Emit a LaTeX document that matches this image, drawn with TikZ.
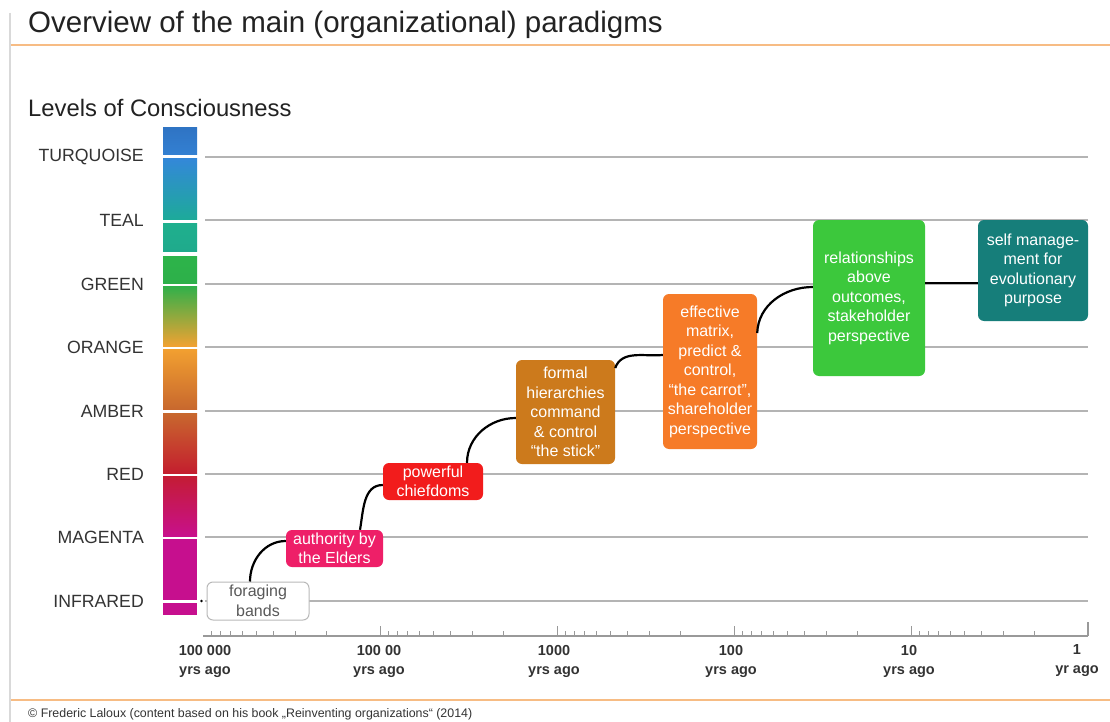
\documentclass[tikz,border=0pt]{standalone}
\usepackage{fontspec}
\setmainfont{Liberation Sans}
\usetikzlibrary{positioning}

\definecolor{titlegray}{HTML}{222222}
\definecolor{labelgray}{HTML}{333333}
\definecolor{linegray}{HTML}{B4B4B4}
\definecolor{rulebeige}{HTML}{F7BC84}
\definecolor{magentabox}{HTML}{EE1F68}
\definecolor{redbox}{HTML}{F21C1C}
\definecolor{amberbox}{HTML}{CC7A1C}
\definecolor{orangebox}{HTML}{F67B28}
\definecolor{greenbox}{HTML}{3CC83C}
\definecolor{tealbox}{HTML}{167E7A}

\begin{document}
\begin{tikzpicture}[
  x=1pt, y=-1pt,
  stage/.style={rounded corners=6pt, align=center, text=white, inner sep=0pt,
    font=\fontsize{16}{19.5}\selectfont},
  levellabel/.style={anchor=east, text=labelgray, inner sep=0pt, font=\fontsize{17.7}{20}\selectfont},
  yearlabel/.style={align=center, text=labelgray, inner sep=0pt, font=\fontsize{14.5}{19}\selectfont\bfseries},
  level/.style={draw=linegray, line width=1.8pt},
  link/.style={draw=black, line width=2.2pt},
  axis/.style={draw=gray!80, line width=1.4pt}
]
\useasboundingbox (0,0) rectangle (1110,722);
\fill[white] (0,0) rectangle (1110,722);

% frame and rules
\draw[draw=gray!30, line width=2pt] (10,13) -- (10,722);
\draw[draw=rulebeige, line width=2pt] (11,45) -- (1110,45);
\draw[draw=rulebeige, line width=2pt] (11,700) -- (1110,700);

\node[anchor=base west, inner sep=0pt, text=titlegray, font=\fontsize{29.5}{30}\selectfont] (title) at (28,33)
  {Overview of the main (organizational) paradigms};
\node[anchor=base west, inner sep=0pt, text=titlegray, font=\fontsize{23.8}{26}\selectfont] (heading) at (28,117)
  {Levels of Consciousness};

% colour bar
\fill[top color={rgb,255:red,47;green,116;blue,196}, bottom color={rgb,255:red,51;green,128;blue,210}] (163,128) rectangle (197,155);
\fill[top color={rgb,255:red,51;green,136;blue,216}, bottom color={rgb,255:red,29;green,170;blue,154}] (163,159) rectangle (197,219);
\fill[top color={rgb,255:red,31;green,176;blue,142}, bottom color={rgb,255:red,31;green,170;blue,140}] (163,223) rectangle (197,251);
\fill[top color={rgb,255:red,45;green,180;blue,74}, bottom color={rgb,255:red,45;green,176;blue,74}] (163,256) rectangle (197,283);
\fill[top color={rgb,255:red,48;green,176;blue,74}, bottom color={rgb,255:red,240;green,162;blue,50}] (163,286) rectangle (197,346);
\fill[top color={rgb,255:red,242;green,160;blue,48}, bottom color={rgb,255:red,200;green,104;blue,46}] (163,349) rectangle (197,409);
\fill[top color={rgb,255:red,200;green,104;blue,46}, bottom color={rgb,255:red,196;green,30;blue,46}] (163,413) rectangle (197,473);
\fill[top color={rgb,255:red,196;green,28;blue,52}, bottom color={rgb,255:red,200;green,16;blue,140}] (163,476) rectangle (197,536);
\fill[color={rgb,255:red,198;green,15;blue,142}] (163,539) rectangle (197,600);
\fill[color={rgb,255:red,198;green,15;blue,142}] (163,603) rectangle (197,615);

% levels
\foreach \y/\name in {157/TURQUOISE, 220/TEAL, 284/GREEN, 347/ORANGE,
                      411/AMBER, 474/RED, 537/MAGENTA, 601/INFRARED} {
  \draw[level] (205,\y) -- (1088,\y);
  \node[levellabel] (lvl\name) at (144,\y) {\name};
}

% time axis (log scale)
\draw[axis] (203,636) -- (1088,636);
\foreach \d in {0,...,4} {
  \foreach \m in {2,...,9} {
    \pgfmathsetmacro\tx{203+177*\d+177*(1-log10(\m))}
    \draw[axis, line width=1pt] (\tx,636) -- (\tx,631);
  }
}
\foreach \d in {1,...,4}
  \draw[axis, line width=1pt] (203+177*\d,636) -- (203+177*\d,626);
\draw[axis] (1088,636) -- (1088,622);

\node[yearlabel] (yr5) at (205,661) {100 000\\yrs ago};
\node[yearlabel] (yr4) at (379,661) {100 00\\yrs ago};
\node[yearlabel] (yr3) at (554,661) {1000\\yrs ago};
\node[yearlabel] (yr2) at (731,661) {100\\yrs ago};
\node[yearlabel] (yr1) at (909,661) {10\\yrs ago};
\node[yearlabel] (yr0) at (1077,661) {1\\yr ago};

% paradigms
\node[stage, draw=gray!55, line width=1pt, fill=white, text=gray!70!black, minimum width=102pt, minimum height=38pt] (forage) at (258,601) {foraging\\bands};
\node[stage, fill=magentabox, minimum width=97pt, minimum height=37pt] (elders) at (334.5,548.5) {authority by\\the Elders};
\node[stage, fill=redbox, minimum width=100pt, minimum height=37pt] (chiefs) at (433,481.5) {powerful\\chiefdoms};
\node[stage, fill=amberbox, minimum width=99pt, minimum height=104pt] (formal) at (565.5,412) {formal\\hierarchies\\command\\\& control\\“the stick”};
\node[stage, fill=orangebox, minimum width=94pt, minimum height=155pt] (effective) at (710,371.5) {effective\\matrix,\\predict \&\\control,\\“the carrot”,\\shareholder\\perspective};
\node[stage, fill=greenbox, minimum width=112pt, minimum height=156pt] (relations) at (869,298) {relationships\\above\\outcomes,\\stakeholder\\perspective};
\node[stage, fill=tealbox, minimum width=110pt, minimum height=101pt] (selfmgmt) at (1033,270.5) {self manage-\\ment for\\evolutionary\\purpose};

\fill ([xshift=-5pt]forage.west) circle (1.4pt);

% connectors
\draw[link] ([xshift=-8pt]forage.north) to[out=90, in=180] ([yshift=7.5pt]elders.west);
\draw[link] ([xshift=25.5pt]elders.north) to[out=80, in=180] ([yshift=-3.5pt]chiefs.west);
\draw[link] ([xshift=34pt]chiefs.north) to[out=90, in=180] ([yshift=-6pt]formal.west);
\draw[link] ([yshift=44pt]formal.east) to[out=70, in=185] ([yshift=16.5pt]effective.west);
\draw[link] ([yshift=38.5pt]effective.east) to[out=88, in=180] ([yshift=11pt]relations.west);
\draw[link] ([yshift=15pt]relations.east) -- ([yshift=-12.5pt]selfmgmt.west);

\node[anchor=west, inner sep=0pt, text=labelgray, font=\fontsize{12.4}{14}\selectfont] (credit) at (28,714)
  {© Frederic Laloux (content based on his book „Reinventing organizations“ (2014)};
\end{tikzpicture}
\end{document}
